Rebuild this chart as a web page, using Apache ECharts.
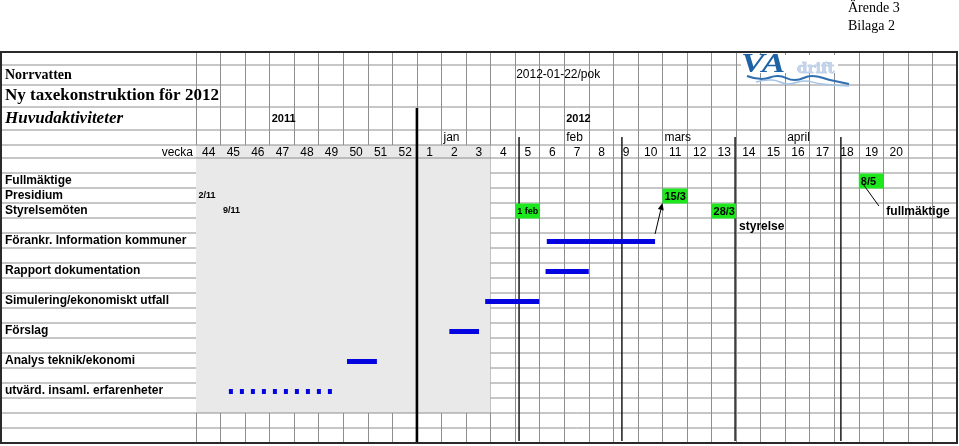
<!DOCTYPE html>
<html><head><meta charset="utf-8">
<script src="https://cdn.jsdelivr.net/npm/echarts@6/dist/echarts.min.js"></script>
<style>html,body{margin:0;padding:0;background:#fff}#c{width:959px;height:446px}</style>
</head><body><div id="c"></div>
<script>
// ---------------- DATA ----------------
const weeks = ['44','45','46','47','48','49','50','51','52','1','2','3','4','5','6','7','8','9','10','11','12','13','14','15','16','17','18','19','20','',''];
const rows = ['', 'Fullmäktige', 'Presidium', 'Styrelsemöten', '', 'Förankr. Information kommuner', '',
  'Rapport dokumentation', '', 'Simulering/ekonomiskt utfall', '', 'Förslag', '', 'Analys teknik/ekonomi', '',
  'utvärd. insaml. erfarenheter', '', '', ''];
const years = ['2011', '2012'];
const yearWeeks = ['47', '7'];
const months = ['jan', 'feb', 'mars', 'april'];
const monthWeeks = ['2', '7', '11', '16'];
const monthStarts = [13.16, 17.35, 21.96, 26.27];   // 1 feb, 1 mars, 1 april, 1 maj on the week axis
const yearStartWeek = '1';
const shadedFromWeek = '44', shadedToWeek = '3';

const barRows = ['Förankr. Information kommuner', 'Rapport dokumentation', 'Simulering/ekonomiskt utfall',
  'Förslag', 'Analys teknik/ekonomi', 'utvärd. insaml. erfarenheter'];
const barStart = [14.29, 14.24, 11.78, 10.32, 6.15, 1.34];
const barEnd   = [18.70, 16.00, 13.98, 11.53, 7.37, 5.58];
const barDotted = [false, false, false, false, false, true];

const milestoneLabels = ['8/5', '15/3', '1 feb', '28/3'];
const milestoneRows   = ['Fullmäktige', 'Presidium', 'Styrelsemöten', 'Styrelsemöten'];
const milestoneWeeks  = ['19', '11', '5', '13'];

const dateLabels = ['2/11', '9/11'];
const dateRows   = ['Presidium', 'Styrelsemöten'];
const dateWeeks  = ['44', '45'];

const noteLabels = ['styrelse', 'fullmäktige'];
const noteRowIndex = [4, 3];
const noteWeeks  = ['14', '20'];

const docTitle = 'Norrvatten';
const docSubtitle = 'Ny taxekonstruktion för 2012';
const docSection = 'Huvudaktiviteter';
const docDate = '2012-01-22/pok';
const docDateWeek = '5';
const weekWord = 'vecka';

// ---------------- LAYOUT ----------------
const SANS = '"Liberation Sans", Arial, sans-serif';
const SERIF = '"Liberation Serif", "Times New Roman", serif';
const GRID_C = '#8e8e8e';
const headerBounds = [0, 13, 33, 55, 78, 93, 106];
const BODY_TOP = 106, ROW_H = 15, TOTAL_H = 391;
const rowTop = k => BODY_TOP + ROW_H * k;
const rowMid = k => rowTop(k) + ROW_H / 2;
const hMid = i => (headerBounds[i] + headerBounds[i + 1]) / 2;
const col = w => weeks.indexOf(w);
const rowOf = r => rows.indexOf(r);

const fullRules = headerBounds.slice(1).concat([rowTop(17), rowTop(18)]);
const bodyRules = [];
for (let k = 1; k <= 16; k++) bodyRules.push(rowTop(k));
const greyRight = col(shadedToWeek) + 1;

const wLines = fullRules.map(y => [0, y, 31, y]).concat(bodyRules.map(y => [greyRight, y, 31, y]));
const lLines = fullRules.concat(bodyRules).map(y => [0, y, 1, y]);

function lineSeries(grid, data, color, width, z) {
  return {
    type: 'custom', xAxisIndex: grid, yAxisIndex: grid, z: z, silent: true, data: data,
    renderItem: (p, api) => {
      const a = api.coord([api.value(0), api.value(1)]);
      const b = api.coord([api.value(2), api.value(3)]);
      return { type: 'line', shape: { x1: a[0], y1: a[1], x2: b[0], y2: b[1] },
        style: { stroke: color, lineWidth: width } };
    }
  };
}

function textSeries(grid, pts, texts, st) {
  return {
    type: 'custom', xAxisIndex: grid, yAxisIndex: grid, z: 20, silent: true, data: pts,
    renderItem: (p, api) => {
      const c = api.coord([api.value(0), api.value(1)]);
      return { type: 'text', x: c[0] + (st.dx || 0), y: c[1] + (st.dy || 0),
        style: { text: texts[p.dataIndex], fill: '#000', fontSize: st.size, fontWeight: st.weight || 'normal',
          fontStyle: st.italic ? 'italic' : 'normal', fontFamily: st.family || SANS,
          align: st.align || 'left', verticalAlign: 'middle' } };
    }
  };
}

const series = [];
series.push({
  type: 'custom', xAxisIndex: 1, yAxisIndex: 1, z: 2, silent: true,
  data: [[col(shadedFromWeek), headerBounds[5], greyRight, rowTop(17)]],
  renderItem: (p, api) => {
    const a = api.coord([api.value(0), api.value(1)]);
    const b = api.coord([api.value(2), api.value(3)]);
    return { type: 'rect', shape: { x: a[0], y: a[1], width: b[0] - a[0], height: b[1] - a[1] },
      style: { fill: '#e9e9e9' } };
  }
});
series.push(lineSeries(1, wLines, GRID_C, 1, 3));
series.push(lineSeries(0, lLines, GRID_C, 1, 3));
series.push(lineSeries(1, monthStarts.map(x => [x, headerBounds[4] + 7, x, TOTAL_H - 2]), '#1a1a1a', 1.5, 4));
series.push(lineSeries(1, [[col(yearStartWeek), headerBounds[3] + 1, col(yearStartWeek), TOTAL_H]], '#000', 2.6, 4));

series.push({
  type: 'custom', xAxisIndex: 1, yAxisIndex: 1, z: 6, silent: true,
  data: barRows.map((r, i) => [barStart[i], rowMid(rowOf(r)) + 1, barEnd[i]]),
  renderItem: (p, api) => {
    const a = api.coord([api.value(0), api.value(1)]);
    const b = api.coord([api.value(2), api.value(1)]);
    return { type: 'line', shape: { x1: a[0], y1: a[1], x2: b[0], y2: b[1] },
      style: { stroke: '#0404e0', lineWidth: 5, lineCap: 'butt',
        lineDash: barDotted[p.dataIndex] ? [4, 7] : null } };
  }
});

const smallMilestone = { '1 feb': 9 };
series.push({
  type: 'custom', xAxisIndex: 1, yAxisIndex: 1, z: 8, silent: true,
  data: milestoneWeeks.map((w, i) => [col(w), rowTop(rowOf(milestoneRows[i]))]),
  renderItem: (p, api) => {
    const a = api.coord([api.value(0), api.value(1)]);
    const b = api.coord([api.value(0) + 1, api.value(1) + ROW_H]);
    const t = milestoneLabels[p.dataIndex];
    return { type: 'group', children: [
      { type: 'rect', shape: { x: a[0], y: a[1] + 0.5, width: b[0] - a[0], height: b[1] - a[1] },
        style: { fill: '#1de81d' } },
      { type: 'text', x: a[0] + 2, y: (a[1] + b[1]) / 2 + 1,
        style: { text: t, fill: '#000', fontSize: smallMilestone[t] || 11, fontWeight: 'bold', fontFamily: SANS,
          align: 'left', verticalAlign: 'middle' } }
    ] };
  }
});

const arrowFrom = [barEnd[0], rowTop(rowOf(barRows[0])) + 1];
const arrowTo = [col(milestoneWeeks[1]), rowTop(rowOf(milestoneRows[1]) + 1)];
series.push({
  type: 'custom', xAxisIndex: 1, yAxisIndex: 1, z: 9, silent: true,
  data: [[arrowFrom[0], arrowFrom[1], arrowTo[0], arrowTo[1]]],
  renderItem: (p, api) => {
    const a = api.coord([api.value(0), api.value(1)]);
    const b = api.coord([api.value(2), api.value(3)]);
    const ang = Math.atan2(b[1] - a[1], b[0] - a[0]);
    const L = 7, W = 3;
    const bx = b[0] - L * Math.cos(ang), by = b[1] - L * Math.sin(ang);
    const px = -Math.sin(ang) * W, py = Math.cos(ang) * W;
    return { type: 'group', children: [
      { type: 'line', shape: { x1: a[0], y1: a[1], x2: bx, y2: by }, style: { stroke: '#000', lineWidth: 1 } },
      { type: 'polygon', shape: { points: [[b[0], b[1]], [bx + px, by + py], [bx - px, by - py]] }, style: { fill: '#000' } }
    ] };
  }
});
series.push(lineSeries(1, [[col(milestoneWeeks[0]) + 0.2, rowTop(rowOf(milestoneRows[0]) + 1) - 3,
  col(noteWeeks[1]) - 0.18, rowTop(noteRowIndex[1]) + 3]], '#000', 1, 9));

series.push(textSeries(1, [[col(docDateWeek), hMid(1)]], [docDate], { size: 12, dx: 1 }));
series.push(textSeries(1, yearWeeks.map(w => [col(w), hMid(3)]), years, { size: 11, weight: 'bold', dx: 2 }));
series.push(textSeries(1, monthWeeks.map(w => [col(w), hMid(4)]), months, { size: 12, dx: 2 }));
series.push(textSeries(1, weeks.map((w, i) => [i + 0.5, hMid(5) + 1]), weeks, { size: 12, align: 'center', dx: 0.5 }));
series.push(textSeries(1, dateWeeks.map((w, i) => [col(w), rowMid(rowOf(dateRows[i]))]), dateLabels, { size: 9, weight: 'bold', dx: 2.5 }));
series.push(textSeries(1, noteWeeks.map((w, i) => [col(w), rowMid(noteRowIndex[i]) + 1]), noteLabels, { size: 12, weight: 'bold', dx: 3 }));

series.push(textSeries(0, [[0, hMid(1)]], [docTitle], { size: 14, weight: 'bold', family: SERIF, dx: 4 }));
series.push(textSeries(0, [[0, hMid(2)]], [docSubtitle], { size: 17, weight: 'bold', family: SERIF, dx: 4 }));
series.push(textSeries(0, [[0, hMid(3)]], [docSection], { size: 17, weight: 'bold', italic: true, family: SERIF, dx: 4 }));
series.push(textSeries(0, [[1, hMid(5) + 1]], [weekWord], { size: 12, align: 'right', dx: -3 }));
series.push(textSeries(0, rows.map((r, k) => [0, rowMid(k)]), rows, { size: 12, weight: 'bold', dx: 4 }));

const option = {
  animation: false,
  backgroundColor: '#fff',
  grid: [
    { left: 1, top: 52, width: 195, height: TOTAL_H },
    { left: 196, top: 52, width: 761, height: TOTAL_H }
  ],
  xAxis: [
    { gridIndex: 0, type: 'value', min: 0, max: 1, show: false },
    { gridIndex: 1, type: 'value', min: 0, max: 31, interval: 1,
      axisLine: { show: false }, axisTick: { show: false }, axisLabel: { show: false },
      splitLine: { show: true, lineStyle: { color: GRID_C, width: 1 } } }
  ],
  yAxis: [
    { gridIndex: 0, type: 'value', min: 0, max: TOTAL_H, inverse: true, show: false },
    { gridIndex: 1, type: 'value', min: 0, max: TOTAL_H, inverse: true, show: false }
  ],
  graphic: [
    { type: 'text', x: 848, y: 8, z: 100, style: { text: 'Ärende 3', fontSize: 14, fontFamily: SERIF, fill: '#000', verticalAlign: 'middle' } },
    { type: 'text', x: 848, y: 26, z: 100, style: { text: 'Bilaga 2', fontSize: 14, fontFamily: SERIF, fill: '#000', verticalAlign: 'middle' } },
    { type: 'rect', z: 99, shape: { x: 741, y: 55, width: 97, height: 18 }, style: { fill: '#fff' } },
    { type: 'rect', z: 100, shape: { x: 1, y: 52, width: 956, height: TOTAL_H }, style: { fill: null, stroke: '#2a2a2a', lineWidth: 2 } },
    { type: 'polyline', z: 100, shape: { points: [[747, 76], [762, 79], [778, 76], [795, 80], [812, 76], [830, 80], [849, 84]], smooth: 0.5 }, style: { fill: null, stroke: '#2f6fb0', lineWidth: 2 } },
    { type: 'polyline', z: 100, shape: { points: [[756, 82], [772, 80], [788, 84], [804, 81], [822, 84], [849, 86]], smooth: 0.5 }, style: { fill: null, stroke: '#a3c4e4', lineWidth: 1.5 } },
    { type: 'text', x: 741, y: 65, z: 101, scaleX: 1.3, style: { text: 'VA', fontSize: 27, fontWeight: 'bold', fontStyle: 'italic', fontFamily: SERIF, fill: '#1d63a6', verticalAlign: 'middle' } },
    { type: 'text', x: 797, y: 69, z: 101, style: { text: 'drift', fontSize: 15, fontWeight: 'bold', fontFamily: '"DejaVu Serif", serif', fill: '#c3d3ea', stroke: '#90abd2', lineWidth: 0.5, verticalAlign: 'middle' } }
  ],
  series: series
};
const chart = echarts.init(document.getElementById('c'), null, { renderer: 'canvas' });
chart.setOption(option);
</script>
</body></html>
